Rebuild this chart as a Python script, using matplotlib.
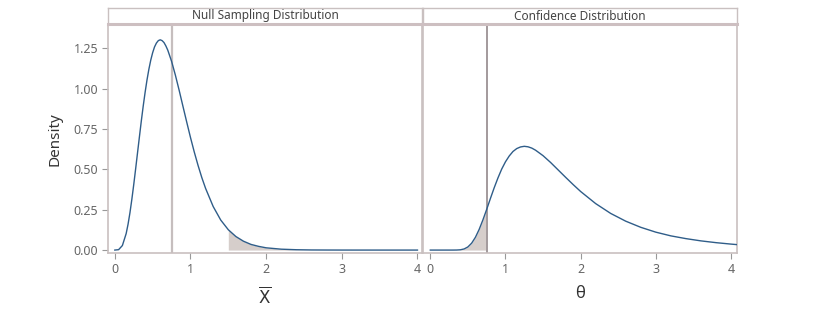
import matplotlib
matplotlib.use("Agg")
import matplotlib.pyplot as plt
import numpy as np

# ---- data ----
panel_titles = ["Null Sampling Distribution", "Confidence Distribution"]

null_x = [0.0, 0.05, 0.1, 0.15, 0.175, 0.2, 0.225, 0.25, 0.275, 0.3, 0.325, 0.35,
          0.375, 0.4, 0.425, 0.45, 0.475, 0.5, 0.525, 0.55, 0.575, 0.6, 0.625,
          0.65, 0.675, 0.7, 0.75, 0.8, 0.85, 0.9, 0.95, 1.0, 1.05, 1.1, 1.15,
          1.2, 1.3, 1.4, 1.5, 1.6, 1.7, 1.8, 1.9, 2.0, 2.2, 2.4, 2.6, 2.8, 3.0,
          3.5, 4.0]
null_y = [0.0, 0.0025, 0.028, 0.102, 0.160, 0.231, 0.314, 0.405, 0.502, 0.602,
          0.701, 0.799, 0.891, 0.976, 1.053, 1.120, 1.177, 1.223, 1.259, 1.283,
          1.298, 1.303, 1.298, 1.286, 1.265, 1.239, 1.170, 1.085, 0.991, 0.892,
          0.794, 0.698, 0.608, 0.525, 0.449, 0.382, 0.270, 0.186, 0.126, 0.084,
          0.055, 0.035, 0.023, 0.014, 0.0055, 0.0021, 0.0007, 0.0003, 0.0001,
          0.0, 0.0]

conf_x = [0.0, 0.1, 0.2, 0.3, 0.35, 0.4, 0.45, 0.5, 0.55, 0.6, 0.65, 0.7, 0.75,
          0.8, 0.85, 0.9, 0.95, 1.0, 1.05, 1.1, 1.15, 1.2, 1.25, 1.3, 1.35, 1.4,
          1.5, 1.6, 1.7, 1.8, 1.9, 2.0, 2.2, 2.4, 2.6, 2.8, 3.0, 3.2, 3.4, 3.6,
          3.8, 4.0, 4.1]
conf_y = [0.0, 0.0, 0.0, 0.00002, 0.0003, 0.0017, 0.0069, 0.0194, 0.0427, 0.079,
          0.128, 0.187, 0.252, 0.320, 0.386, 0.447, 0.502, 0.547, 0.583, 0.611,
          0.629, 0.639, 0.643, 0.640, 0.632, 0.619, 0.585, 0.543, 0.497, 0.451,
          0.406, 0.363, 0.288, 0.227, 0.179, 0.141, 0.111, 0.088, 0.071, 0.057,
          0.046, 0.037, 0.033]

null_ref = 0.75      # vertical reference line, left panel
null_obs = 1.5       # start of shaded tail, left panel
conf_ref = 0.75      # vertical line / end of shaded area, right panel

x_ticks = [0, 1, 2, 3, 4]
y_ticks = [0.00, 0.25, 0.50, 0.75, 1.00, 1.25]
y_tick_labels = ["0.00", "0.25", "0.50", "0.75", "1.00", "1.25"]
x_labels = [r"$\overline{\mathrm{X}}$", "θ"]
y_label = "Density"

# ---- style ----
plt.rcParams["font.family"] = ["Noto Sans", "DejaVu Sans"]
plt.rcParams["mathtext.fontset"] = "dejavusans"

line_col = "#2f5d89"
shade_col = "#d6cecb"
frame_col = "#c9c0c0"
strip_line = "#cdbfc1"
tick_col = "#666666"

fig = plt.figure(figsize=(8.36, 3.11), dpi=100)
W, H = 836, 311

def fr(x0, y0, x1, y1):
    return [x0 / W, 1 - y1 / H, (x1 - x0) / W, (y1 - y0) / H]

panels = [(108, 422), (423, 737)]
ax_top, ax_bot = 24, 253.3
strip_top = 8

xs_list = [null_x, conf_x]
ys_list = [null_y, conf_y]
xlims = [(-0.09, 4.06), (-0.097, 4.08)]

for i, (x0, x1) in enumerate(panels):
    ax = fig.add_axes(fr(x0, ax_top, x1, ax_bot))
    xs = np.array(xs_list[i])
    ys = np.array(ys_list[i])
    if i == 0:
        m = xs >= null_obs
        ax.fill_between(xs[m], 0, ys[m], color=shade_col, lw=0, zorder=1)
        ax.axvline(null_ref, color="#c6bebe", lw=1.6, zorder=2)
    else:
        m = xs <= conf_ref
        ax.fill_between(xs[m], 0, ys[m], color=shade_col, lw=0, zorder=1)
        ax.axvline(conf_ref, color="#a39a9c", lw=1.4, zorder=2)
    ax.plot(xs, ys, color=line_col, lw=1.0, zorder=3, solid_joinstyle="round")

    ax.set_xlim(*xlims[i])
    ax.set_ylim(-0.02, 1.401)
    ax.set_xticks(x_ticks)
    ax.set_xticklabels([str(t) for t in x_ticks])
    ax.set_yticks(y_ticks)
    if i == 0:
        ax.set_yticklabels(y_tick_labels)
        ax.set_ylabel(y_label, fontsize=11, color="#333333", labelpad=8)
    else:
        ax.tick_params(axis="y", left=False, labelleft=False)
    ax.tick_params(axis="both", direction="out", length=4, width=0.8,
                   color="#999999", labelcolor=tick_col, labelsize=9, pad=3)
    ax.set_xlabel(x_labels[i], fontsize=12, color="#333333", labelpad=7)
    for s in ["left", "bottom", "right"]:
        ax.spines[s].set_color(frame_col)
        ax.spines[s].set_linewidth(1.2)
    ax.spines["top"].set_visible(False)

    # strip
    sax = fig.add_axes(fr(x0, strip_top, x1, ax_top))
    sax.set_xticks([]); sax.set_yticks([])
    sax.set_xlim(0, 1); sax.set_ylim(0, 1)
    for s in ["left", "right", "top"]:
        sax.spines[s].set_color(frame_col)
        sax.spines[s].set_linewidth(1.0)
    sax.spines["bottom"].set_color(strip_line)
    sax.spines["bottom"].set_linewidth(2.2)
    sax.text(0.5, 0.5, panel_titles[i], ha="center", va="center",
             fontsize=8.5, color="#444444")

fig.savefig("out.png", dpi=100)
